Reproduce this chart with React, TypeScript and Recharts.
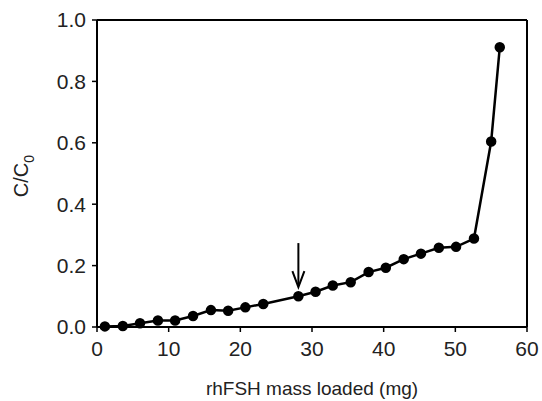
import { LineChart, Line, XAxis, YAxis, ReferenceLine, ReferenceDot } from 'recharts';

const massLoaded = [1.1, 3.6, 6.0, 8.5, 10.9, 13.4, 15.9, 18.3, 20.7, 23.2, 28.1, 30.5, 32.9, 35.4, 37.9, 40.3, 42.8, 45.2, 47.7, 50.1, 52.6, 55.0, 56.2];
const ratio = [0.002, 0.003, 0.012, 0.021, 0.021, 0.036, 0.055, 0.053, 0.064, 0.075, 0.1, 0.115, 0.135, 0.146, 0.179, 0.193, 0.221, 0.239, 0.258, 0.261, 0.288, 0.604, 0.911];
const xTicks = [0, 10, 20, 30, 40, 50, 60];
const yTicks = [0, 0.2, 0.4, 0.6, 0.8, 1.0];
const arrowAt = { x: 28.1, y: 0.13 };

const data = massLoaded.map((m, i) => ({ mass: m, ratio: ratio[i] }));

const font = '"Liberation Sans", Arial, sans-serif';

function Arrow(props: any) {
    const { cx, cy } = props;
    return (
        <g>
            <line x1={cx} y1={cy - 44} x2={cx} y2={cy - 2} stroke="#000" strokeWidth={2} />
            <path d={`M${cx - 6},${cy - 16} L${cx},${cy} L${cx + 6},${cy - 16}`} fill="none" stroke="#000" strokeWidth={2} />
        </g>
    );
}

function YLabel() {
    return (
        <text transform="translate(28,176) rotate(-90)" textAnchor="middle" fontFamily={font} fontSize={20} fill="#222">
            C/C<tspan fontSize={14} dy={6}>0</tspan>
        </text>
    );
}

export default function App() {
    return (
        <div style={{ position: 'absolute', left: 0, top: 0, width: 542, height: 401, background: '#fff' }}>
            <LineChart width={542} height={401} data={data} margin={{ top: 20, right: 15, left: 0, bottom: 0 }}>
                <XAxis
                    dataKey="mass"
                    type="number"
                    domain={[0, 60]}
                    ticks={xTicks}
                    height={74}
                    stroke="#000"
                    strokeWidth={2}
                    tickSize={5}
                    tickMargin={9}
                    tick={{ fill: '#222', fontSize: 21, fontFamily: font }}
                    tickLine={{ stroke: '#000', strokeWidth: 1.5 }}
                    label={{ value: 'rhFSH mass loaded (mg)', position: 'insideBottom', offset: 6, fill: '#222', fontSize: 19, fontFamily: font }}
                />
                <YAxis
                    type="number"
                    domain={[0, 1]}
                    ticks={yTicks}
                    width={97}
                    stroke="#000"
                    strokeWidth={2}
                    tickSize={5}
                    tickMargin={6}
                    tickFormatter={(v) => Number(v).toFixed(1)}
                    tick={{ fill: '#222', fontSize: 21, fontFamily: font }}
                    tickLine={{ stroke: '#000', strokeWidth: 1.5 }}
                    label={<YLabel />}
                />
                <ReferenceLine y={1} stroke="#000" strokeWidth={2} />
                <ReferenceLine x={60} stroke="#000" strokeWidth={2} />
                <Line
                    dataKey="ratio"
                    stroke="#000"
                    strokeWidth={2.5}
                    dot={{ r: 4, fill: '#000', stroke: '#000' }}
                    isAnimationActive={false}
                />
                <ReferenceDot x={arrowAt.x} y={arrowAt.y} shape={<Arrow />} />
            </LineChart>
        </div>
    );
}
